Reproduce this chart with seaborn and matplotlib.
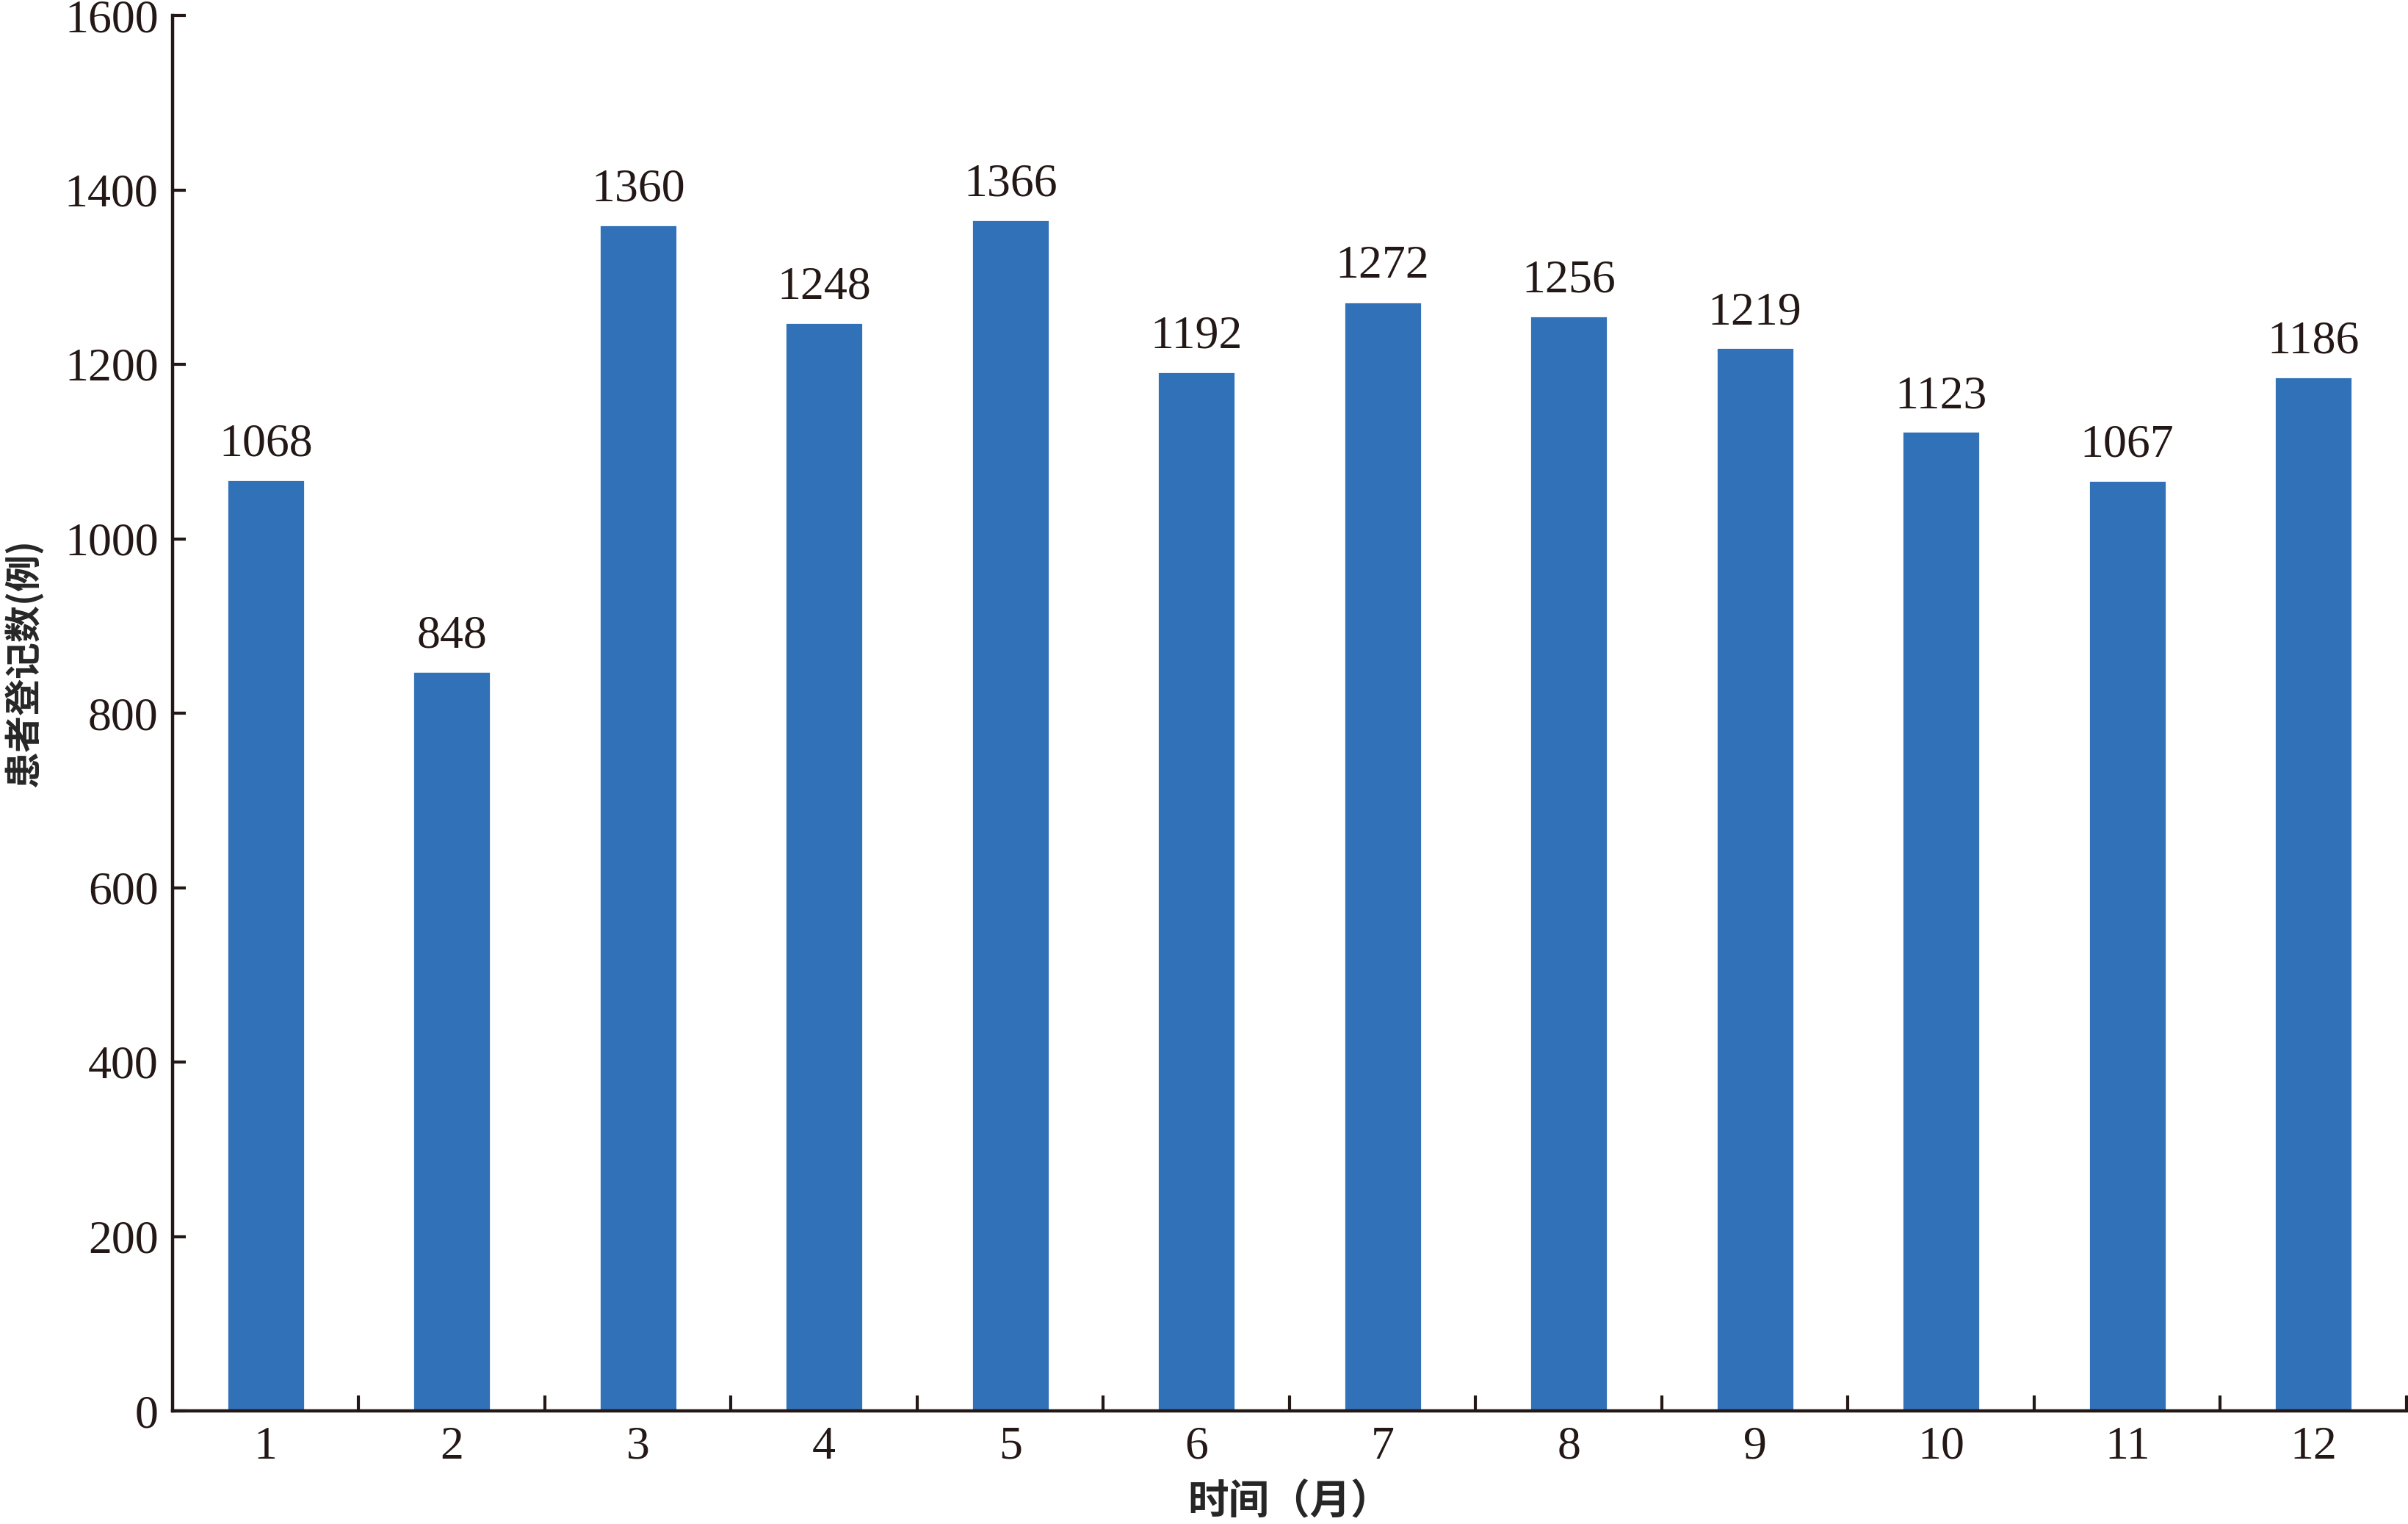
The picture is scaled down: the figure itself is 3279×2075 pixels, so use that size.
import matplotlib
matplotlib.use("Agg")
import matplotlib.pyplot as plt
import seaborn as sns
import pandas as pd

months = ["1", "2", "3", "4", "5", "6", "7", "8", "9", "10", "11", "12"]
counts = [1068, 848, 1360, 1248, 1366, 1192, 1272, 1256, 1219, 1123, 1067, 1186]
y_ticks = [0, 200, 400, 600, 800, 1000, 1200, 1400, 1600]

ink = "#231815"
bar_color = "#3171b8"

sns.set_style("ticks")
plt.rcParams['font.family'] = ['Liberation Serif', 'Noto Sans CJK SC', 'DejaVu Sans']
plt.rcParams['text.color'] = ink
plt.rcParams['axes.edgecolor'] = ink
plt.rcParams['xtick.color'] = ink
plt.rcParams['ytick.color'] = ink

df = pd.DataFrame({"month": months, "count": counts})

fig = plt.figure(figsize=(16.4, 10.375), dpi=200)
ax = fig.add_axes([235/3280, 1 - 1921/2075, (3277-235)/3280, 1900/2075])

sns.barplot(data=df, x="month", y="count", color=bar_color, saturation=1,
            width=0.42, ax=ax)

for c in ax.containers:
    ax.bar_label(c, labels=[str(v) for v in counts], padding=6.5, fontsize=23, color=ink)

ax.set_ylim(0, 1600)
ax.set_xlim(-0.5, 11.5)
ax.set_yticks(y_ticks)
ax.set_yticklabels([str(t) for t in y_ticks], fontsize=23)

# x ticks sit at the boundaries between months, labels in the middle
ax.set_xticks([i + 0.5 for i in range(12)])
ax.set_xticklabels([])
ax.set_xticks(range(12), minor=True)
ax.set_xticklabels(months, minor=True, fontsize=23)
ax.tick_params(axis='x', which='minor', length=0, pad=7.5)
ax.tick_params(axis='x', which='major', direction='in', length=7.5, width=1.5)
ax.tick_params(axis='y', direction='in', length=6.5, width=1.5, pad=7)

sns.despine(ax=ax)
for s in ["left", "bottom"]:
    ax.spines[s].set_linewidth(1.6)

ax.set_xlabel("时间（月）", fontsize=20, family=['Noto Sans CJK SC'], weight='bold')
ax.set_ylabel("患者登记数(例)", fontsize=18, family=['Noto Sans CJK SC'], weight='bold')
ax.xaxis.set_label_coords(0.5, -0.051)
ax.yaxis.set_label_coords(-0.058, 0.536)

fig.savefig("out.png", dpi=200)
